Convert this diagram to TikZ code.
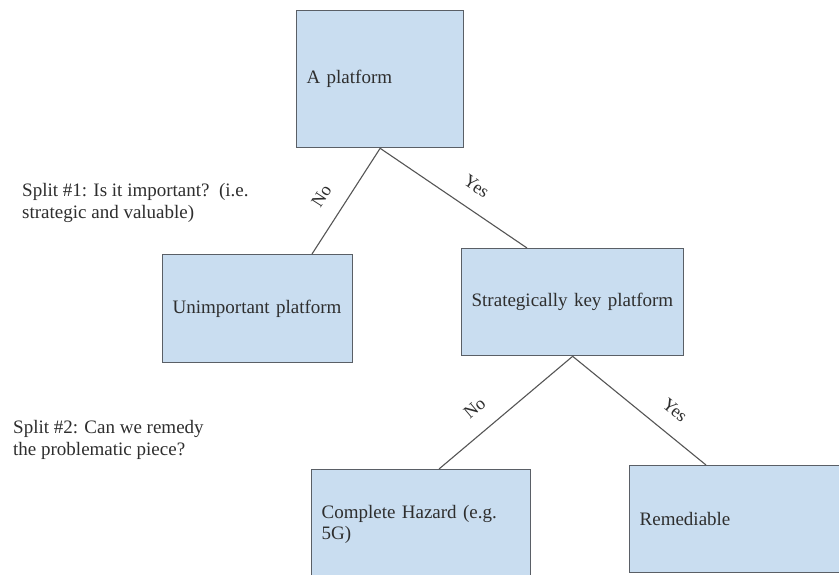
\documentclass[tikz,border=0pt]{standalone}
\usepackage{fontspec}
\setmainfont{Liberation Serif}
\definecolor{boxfill}{HTML}{C9DDF0}
\definecolor{boxline}{HTML}{5A5F66}
\definecolor{edgeline}{HTML}{555555}
\definecolor{txt}{HTML}{2E2E2E}
\tikzset{
  box/.style={draw=boxline, fill=boxfill, line width=1.3pt, rectangle,
    anchor=north west, inner xsep=10pt, inner ysep=0pt, align=left,
    text=txt, font=\fontsize{19}{21}\selectfont},
  edge/.style={draw=edgeline, line width=1.1pt},
  lbl/.style={sloped, inner sep=0pt, text=txt, font=\fontsize{18}{20}\selectfont},
  note/.style={anchor=north west, inner sep=0pt, align=left, text=txt,
    font=\fontsize{19}{22}\selectfont}
}
\begin{document}
\begin{tikzpicture}[x=1pt,y=-1pt]
\useasboundingbox (0,0) rectangle (839,574);
\clip (0,0) rectangle (839,574);
\fill[white] (0,0) rectangle (839,574);

\node[box, minimum width=167pt, minimum height=137pt, text width=147pt] (top) at (296,10) {A platform};
\node[box, minimum width=190pt, minimum height=108pt, text width=170pt] (unimp) at (162,254) {Unimportant platform};
\node[box, minimum width=222pt, minimum height=107pt, text width=202pt] (strat) at (461,248) {Strategically key platform};
\node[box, minimum width=219pt, minimum height=110pt, text width=199pt] (hazard) at (311,469) {Complete Hazard (e.g.\\5G)};
\node[box, minimum width=230pt, minimum height=107pt, text width=210pt] (remed) at (629,465) {Remediable};

\node[note] (split1) at (22,183) {Split \#1: Is it important?\ \ (i.e.\\strategic and valuable)};
\node[note] (split2) at (13,420) {Split \#2: Can we remedy\\the problematic piece?};

\draw[edge] (top.south) -- node[lbl, pos=0.57, above=17pt] {No} ([xshift=150pt]unimp.north west);
\draw[edge] (top.south) -- node[lbl, pos=0.57, above=16pt] {Yes} ([xshift=66pt]strat.north west);
\draw[edge] (strat.south) -- node[lbl, pos=0.62, above=17pt] {No} ([xshift=128pt]hazard.north west);
\draw[edge] (strat.south) -- node[lbl, pos=0.66, above=16pt] {Yes} ([xshift=77pt]remed.north west);
\end{tikzpicture}
\end{document}
